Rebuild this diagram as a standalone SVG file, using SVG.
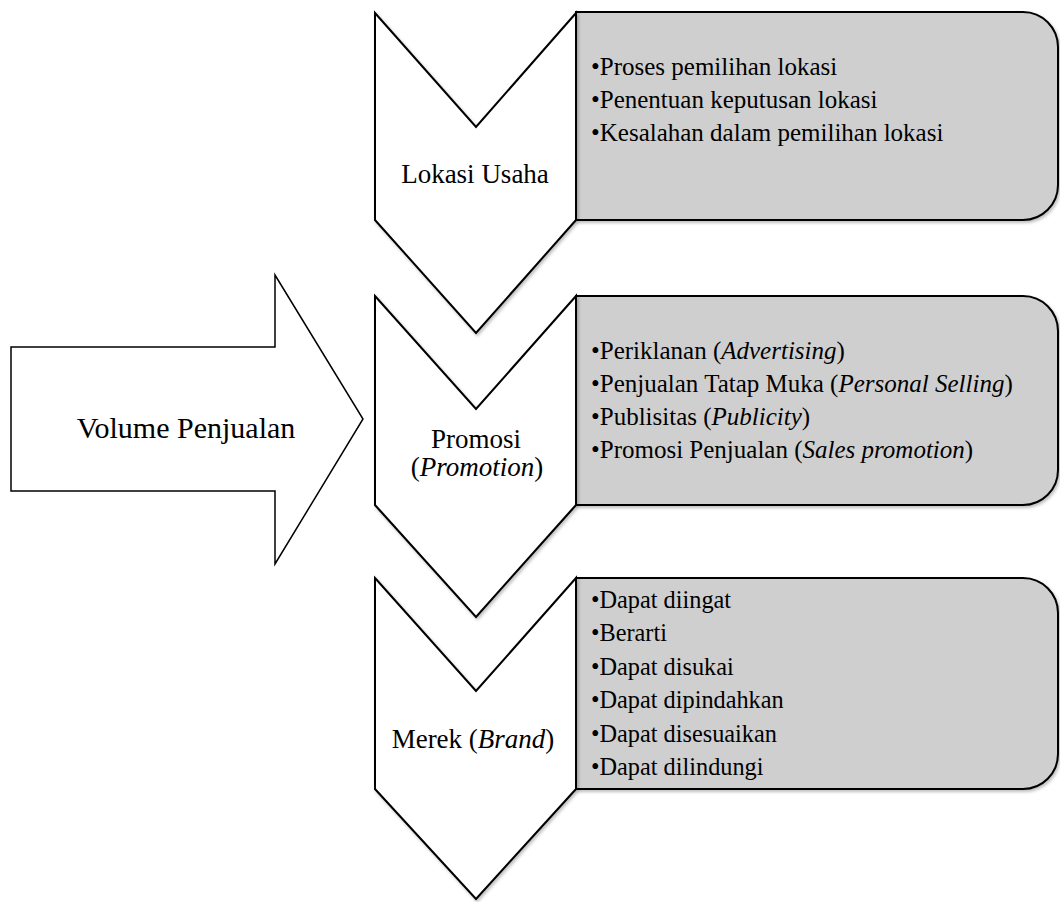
<svg xmlns="http://www.w3.org/2000/svg" width="1060" height="902" viewBox="0 0 1060 902">
<defs>
<filter id="sh" x="-10%" y="-10%" width="120%" height="120%">
<feDropShadow dx="1.5" dy="2" stdDeviation="1.5" flood-color="#000" flood-opacity="0.25"/>
</filter>
</defs>
<style>
.box{fill:#cfcfcf;stroke:#000;stroke-width:2;filter:url(#sh)}
.chev{fill:#fff;stroke:#000;stroke-width:2;stroke-linejoin:miter;filter:url(#sh)}
.arrow{fill:#fff;stroke:#000;stroke-width:1.5}
text{font-family:"Liberation Serif","Times New Roman",serif;fill:#000}
.t1{font-size:25px}
.t3{font-size:24.3px}
.c{font-size:27px;text-anchor:middle}
.big{font-size:30px;text-anchor:middle}
.i{font-style:italic}
</style>
<rect width="1060" height="902" fill="#fff"/>
<g id="volume">
<path class="arrow" d="M11,347 H275 V275 L363,419 L275,564 V491 H11 Z"/>
<text class="big" x="186" y="438">Volume Penjualan</text>
</g>
<g id="box-lokasi">
<path class="box" d="M576,12 H1023 A35,35 0 0 1 1058,47 V185 A35,35 0 0 1 1023,220 H576 Z"/>
<text class="t1" x="591" y="75">•Proses pemilihan lokasi</text>
<text class="t1" x="591" y="108">•Penentuan keputusan lokasi</text>
<text class="t1" x="591" y="141">•Kesalahan dalam pemilihan lokasi</text>
</g>
<g id="box-promosi">
<path class="box" d="M576,296 H1023 A35,35 0 0 1 1058,331 V470 A35,35 0 0 1 1023,505 H576 Z"/>
<text class="t1" x="591" y="359">•Periklanan (<tspan class="i">Advertising</tspan>)</text>
<text class="t1" x="591" y="392">•Penjualan Tatap Muka (<tspan class="i">Personal Selling</tspan>)</text>
<text class="t1" x="591" y="425">•Publisitas (<tspan class="i">Publicity</tspan>)</text>
<text class="t1" x="591" y="458">•Promosi Penjualan (<tspan class="i">Sales promotion</tspan>)</text>
</g>
<g id="box-merek">
<path class="box" d="M576,578 H1023 A35,35 0 0 1 1058,613 V754 A35,35 0 0 1 1023,789 H576 Z"/>
<text class="t3" x="591" y="608">•Dapat diingat</text>
<text class="t3" x="591" y="641">•Berarti</text>
<text class="t3" x="591" y="675">•Dapat disukai</text>
<text class="t3" x="591" y="708">•Dapat dipindahkan</text>
<text class="t3" x="591" y="742">•Dapat disesuaikan</text>
<text class="t3" x="591" y="775">•Dapat dilindungi</text>
</g>
<g id="chevron-lokasi">
<path class="chev" d="M375,13 L476,127 L576,13 L576,220 L476,333 L375,220 Z"/>
<text class="c" x="475" y="183">Lokasi Usaha</text>
</g>
<g id="chevron-promosi">
<path class="chev" d="M375,296 L476,409 L576,296 L576,505 L476,617 L375,505 Z"/>
<text class="c" x="476" y="448">Promosi</text>
<text class="c" x="477" y="476">(<tspan class="i">Promotion</tspan>)</text>
</g>
<g id="chevron-merek">
<path class="chev" d="M375,578 L476,691 L576,578 L576,789 L476,899 L375,789 Z"/>
<text class="c" x="473" y="748">Merek (<tspan class="i">Brand</tspan>)</text>
</g>
<g id="connectors"></g>
</svg>
